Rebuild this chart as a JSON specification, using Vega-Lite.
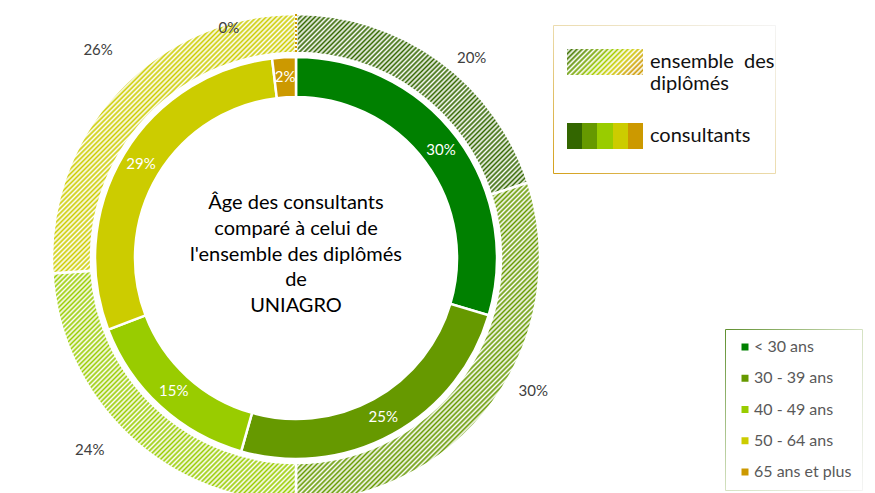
{
  "$schema": "https://vega.github.io/schema/vega-lite/v6.json",
  "autosize": {"type": "none"},
  "width": 592,
  "height": 470,
  "padding": {"left": 0, "top": 23, "right": 283, "bottom": 0},
  "background": "white",
  "config": {"view": {"stroke": null}, "font": "Lato"},
  "params": [
    {"name": "hatch", "value": {"gradient": "linear", "x1": 0, "y1": 0, "x2": 1, "y2": 1, "stops": [
      {"offset":0,"color":"#fff"},{"offset":0.005,"color":"#fff0"},{"offset":0.01,"color":"#fff"},{"offset":0.015,"color":"#fff0"},{"offset":0.02,"color":"#fff"},{"offset":0.025,"color":"#fff0"},{"offset":0.03,"color":"#fff"},{"offset":0.035,"color":"#fff0"},{"offset":0.04,"color":"#fff"},{"offset":0.045,"color":"#fff0"},
      {"offset":0.05,"color":"#fff"},{"offset":0.055,"color":"#fff0"},{"offset":0.06,"color":"#fff"},{"offset":0.065,"color":"#fff0"},{"offset":0.07,"color":"#fff"},{"offset":0.075,"color":"#fff0"},{"offset":0.08,"color":"#fff"},{"offset":0.085,"color":"#fff0"},{"offset":0.09,"color":"#fff"},{"offset":0.095,"color":"#fff0"},
      {"offset":0.1,"color":"#fff"},{"offset":0.105,"color":"#fff0"},{"offset":0.11,"color":"#fff"},{"offset":0.115,"color":"#fff0"},{"offset":0.12,"color":"#fff"},{"offset":0.125,"color":"#fff0"},{"offset":0.13,"color":"#fff"},{"offset":0.135,"color":"#fff0"},{"offset":0.14,"color":"#fff"},{"offset":0.145,"color":"#fff0"},
      {"offset":0.15,"color":"#fff"},{"offset":0.155,"color":"#fff0"},{"offset":0.16,"color":"#fff"},{"offset":0.165,"color":"#fff0"},{"offset":0.17,"color":"#fff"},{"offset":0.175,"color":"#fff0"},{"offset":0.18,"color":"#fff"},{"offset":0.185,"color":"#fff0"},{"offset":0.19,"color":"#fff"},{"offset":0.195,"color":"#fff0"},
      {"offset":0.2,"color":"#fff"},{"offset":0.205,"color":"#fff0"},{"offset":0.21,"color":"#fff"},{"offset":0.215,"color":"#fff0"},{"offset":0.22,"color":"#fff"},{"offset":0.225,"color":"#fff0"},{"offset":0.23,"color":"#fff"},{"offset":0.235,"color":"#fff0"},{"offset":0.24,"color":"#fff"},{"offset":0.245,"color":"#fff0"},
      {"offset":0.25,"color":"#fff"},{"offset":0.255,"color":"#fff0"},{"offset":0.26,"color":"#fff"},{"offset":0.265,"color":"#fff0"},{"offset":0.27,"color":"#fff"},{"offset":0.275,"color":"#fff0"},{"offset":0.28,"color":"#fff"},{"offset":0.285,"color":"#fff0"},{"offset":0.29,"color":"#fff"},{"offset":0.295,"color":"#fff0"},
      {"offset":0.3,"color":"#fff"},{"offset":0.305,"color":"#fff0"},{"offset":0.31,"color":"#fff"},{"offset":0.315,"color":"#fff0"},{"offset":0.32,"color":"#fff"},{"offset":0.325,"color":"#fff0"},{"offset":0.33,"color":"#fff"},{"offset":0.335,"color":"#fff0"},{"offset":0.34,"color":"#fff"},{"offset":0.345,"color":"#fff0"},
      {"offset":0.35,"color":"#fff"},{"offset":0.355,"color":"#fff0"},{"offset":0.36,"color":"#fff"},{"offset":0.365,"color":"#fff0"},{"offset":0.37,"color":"#fff"},{"offset":0.375,"color":"#fff0"},{"offset":0.38,"color":"#fff"},{"offset":0.385,"color":"#fff0"},{"offset":0.39,"color":"#fff"},{"offset":0.395,"color":"#fff0"},
      {"offset":0.4,"color":"#fff"},{"offset":0.405,"color":"#fff0"},{"offset":0.41,"color":"#fff"},{"offset":0.415,"color":"#fff0"},{"offset":0.42,"color":"#fff"},{"offset":0.425,"color":"#fff0"},{"offset":0.43,"color":"#fff"},{"offset":0.435,"color":"#fff0"},{"offset":0.44,"color":"#fff"},{"offset":0.445,"color":"#fff0"},
      {"offset":0.45,"color":"#fff"},{"offset":0.455,"color":"#fff0"},{"offset":0.46,"color":"#fff"},{"offset":0.465,"color":"#fff0"},{"offset":0.47,"color":"#fff"},{"offset":0.475,"color":"#fff0"},{"offset":0.48,"color":"#fff"},{"offset":0.485,"color":"#fff0"},{"offset":0.49,"color":"#fff"},{"offset":0.495,"color":"#fff0"},
      {"offset":0.5,"color":"#fff"},{"offset":0.505,"color":"#fff0"},{"offset":0.51,"color":"#fff"},{"offset":0.515,"color":"#fff0"},{"offset":0.52,"color":"#fff"},{"offset":0.525,"color":"#fff0"},{"offset":0.53,"color":"#fff"},{"offset":0.535,"color":"#fff0"},{"offset":0.54,"color":"#fff"},{"offset":0.545,"color":"#fff0"},
      {"offset":0.55,"color":"#fff"},{"offset":0.555,"color":"#fff0"},{"offset":0.56,"color":"#fff"},{"offset":0.565,"color":"#fff0"},{"offset":0.57,"color":"#fff"},{"offset":0.575,"color":"#fff0"},{"offset":0.58,"color":"#fff"},{"offset":0.585,"color":"#fff0"},{"offset":0.59,"color":"#fff"},{"offset":0.595,"color":"#fff0"},
      {"offset":0.6,"color":"#fff"},{"offset":0.605,"color":"#fff0"},{"offset":0.61,"color":"#fff"},{"offset":0.615,"color":"#fff0"},{"offset":0.62,"color":"#fff"},{"offset":0.625,"color":"#fff0"},{"offset":0.63,"color":"#fff"},{"offset":0.635,"color":"#fff0"},{"offset":0.64,"color":"#fff"},{"offset":0.645,"color":"#fff0"},
      {"offset":0.65,"color":"#fff"},{"offset":0.655,"color":"#fff0"},{"offset":0.66,"color":"#fff"},{"offset":0.665,"color":"#fff0"},{"offset":0.67,"color":"#fff"},{"offset":0.675,"color":"#fff0"},{"offset":0.68,"color":"#fff"},{"offset":0.685,"color":"#fff0"},{"offset":0.69,"color":"#fff"},{"offset":0.695,"color":"#fff0"},
      {"offset":0.7,"color":"#fff"},{"offset":0.705,"color":"#fff0"},{"offset":0.71,"color":"#fff"},{"offset":0.715,"color":"#fff0"},{"offset":0.72,"color":"#fff"},{"offset":0.725,"color":"#fff0"},{"offset":0.73,"color":"#fff"},{"offset":0.735,"color":"#fff0"},{"offset":0.74,"color":"#fff"},{"offset":0.745,"color":"#fff0"},
      {"offset":0.75,"color":"#fff"},{"offset":0.755,"color":"#fff0"},{"offset":0.76,"color":"#fff"},{"offset":0.765,"color":"#fff0"},{"offset":0.77,"color":"#fff"},{"offset":0.775,"color":"#fff0"},{"offset":0.78,"color":"#fff"},{"offset":0.785,"color":"#fff0"},{"offset":0.79,"color":"#fff"},{"offset":0.795,"color":"#fff0"},
      {"offset":0.8,"color":"#fff"},{"offset":0.805,"color":"#fff0"},{"offset":0.81,"color":"#fff"},{"offset":0.815,"color":"#fff0"},{"offset":0.82,"color":"#fff"},{"offset":0.825,"color":"#fff0"},{"offset":0.83,"color":"#fff"},{"offset":0.835,"color":"#fff0"},{"offset":0.84,"color":"#fff"},{"offset":0.845,"color":"#fff0"},
      {"offset":0.85,"color":"#fff"},{"offset":0.855,"color":"#fff0"},{"offset":0.86,"color":"#fff"},{"offset":0.865,"color":"#fff0"},{"offset":0.87,"color":"#fff"},{"offset":0.875,"color":"#fff0"},{"offset":0.88,"color":"#fff"},{"offset":0.885,"color":"#fff0"},{"offset":0.89,"color":"#fff"},{"offset":0.895,"color":"#fff0"},
      {"offset":0.9,"color":"#fff"},{"offset":0.905,"color":"#fff0"},{"offset":0.91,"color":"#fff"},{"offset":0.915,"color":"#fff0"},{"offset":0.92,"color":"#fff"},{"offset":0.925,"color":"#fff0"},{"offset":0.93,"color":"#fff"},{"offset":0.935,"color":"#fff0"},{"offset":0.94,"color":"#fff"},{"offset":0.945,"color":"#fff0"},
      {"offset":0.95,"color":"#fff"},{"offset":0.955,"color":"#fff0"},{"offset":0.96,"color":"#fff"},{"offset":0.965,"color":"#fff0"},{"offset":0.97,"color":"#fff"},{"offset":0.975,"color":"#fff0"},{"offset":0.98,"color":"#fff"},{"offset":0.985,"color":"#fff0"},{"offset":0.99,"color":"#fff"},{"offset":0.995,"color":"#fff0"},
      {"offset":1,"color":"#fff"}
    ]}},
    {"name": "gradCons", "value": {"gradient": "linear", "x1": 0, "y1": 0, "x2": 1, "y2": 0, "stops": [
      {"offset": 0, "color": "#336600"}, {"offset": 0.2, "color": "#336600"},
      {"offset": 0.2, "color": "#669900"}, {"offset": 0.4, "color": "#669900"},
      {"offset": 0.4, "color": "#99cc00"}, {"offset": 0.6, "color": "#99cc00"},
      {"offset": 0.6, "color": "#cccc00"}, {"offset": 0.8, "color": "#cccc00"},
      {"offset": 0.8, "color": "#cc9900"}, {"offset": 1, "color": "#cc9900"}]}},
    {"name": "gradHatchLeg", "value": {"gradient": "linear", "x1": 0, "y1": 0, "x2": 1.2015, "y2": 0.411, "stops": [
      {"offset":0,"color":"#336600"},{"offset":0.025,"color":"#fff"},
      {"offset":0.05,"color":"#3d7000"},{"offset":0.075,"color":"#fff"},
      {"offset":0.1,"color":"#477a00"},{"offset":0.125,"color":"#fff"},
      {"offset":0.15,"color":"#528400"},{"offset":0.175,"color":"#fff"},
      {"offset":0.2,"color":"#5c8e00"},{"offset":0.225,"color":"#fff"},
      {"offset":0.25,"color":"#669900"},{"offset":0.275,"color":"#fff"},
      {"offset":0.3,"color":"#73a300"},{"offset":0.325,"color":"#fff"},
      {"offset":0.35,"color":"#80ad00"},{"offset":0.375,"color":"#fff"},
      {"offset":0.4,"color":"#8cb800"},{"offset":0.425,"color":"#fff"},
      {"offset":0.45,"color":"#99cc00"},{"offset":0.475,"color":"#fff"},
      {"offset":0.5,"color":"#a6cc00"},{"offset":0.525,"color":"#fff"},
      {"offset":0.55,"color":"#b3cc00"},{"offset":0.575,"color":"#fff"},
      {"offset":0.6,"color":"#bfcc00"},{"offset":0.625,"color":"#fff"},
      {"offset":0.65,"color":"#cccc00"},{"offset":0.675,"color":"#fff"},
      {"offset":0.7,"color":"#ccc000"},{"offset":0.725,"color":"#fff"},
      {"offset":0.75,"color":"#ccb300"},{"offset":0.775,"color":"#fff"},
      {"offset":0.8,"color":"#cca600"},{"offset":0.825,"color":"#fff"},
      {"offset":0.85,"color":"#cc9900"},{"offset":0.875,"color":"#fff"},
      {"offset":0.9,"color":"#cc9900"},{"offset":0.925,"color":"#fff"},
      {"offset":0.95,"color":"#cc9900"},{"offset":0.975,"color":"#fff"},
      {"offset":1,"color":"#cc9900"}]}},
    {"name": "goldGrad", "value": {"gradient": "linear", "x1": 0, "y1": 1, "x2": 1, "y2": 0, "stops": [
      {"offset": 0, "color": "#d4a01a"}, {"offset": 0.5, "color": "#ecdcae"}, {"offset": 1, "color": "#f4f4f4"}]}},
    {"name": "greenGrad", "value": {"gradient": "linear", "x1": 0, "y1": 0, "x2": 1, "y2": 1, "stops": [
      {"offset": 0, "color": "#5f8f2f"}, {"offset": 0.5, "color": "#d5e2c2"}, {"offset": 1, "color": "#f4f4f4"}]}}
  ],
  "datasets": {
    "consultants": [
      {"age": "< 30 ans", "k": 1, "pct": 0.296},
      {"age": "30 - 39 ans", "k": 2, "pct": 0.248},
      {"age": "40 - 49 ans", "k": 3, "pct": 0.148},
      {"age": "50 - 64 ans", "k": 4, "pct": 0.289},
      {"age": "65 ans et plus", "k": 5, "pct": 0.019}
    ],
    "diplomes": [
      {"age": "< 30 ans", "k": 1, "pct": 0.20},
      {"age": "30 - 39 ans", "k": 2, "pct": 0.30},
      {"age": "40 - 49 ans", "k": 3, "pct": 0.24},
      {"age": "50 - 64 ans", "k": 4, "pct": 0.26},
      {"age": "65 ans et plus", "k": 5, "pct": 0}
    ],
    "titre": [{"t": "Âge des consultants\ncomparé à celui de\nl'ensemble des diplômés\nde\nUNIAGRO"}],
    "anneau": [{"groupe": "ensemble des diplômés"}]
  },
  "layer": [
    {
      "data": {"name": "diplomes"},
      "mark": {"type": "arc", "radius": 244, "radius2": 205, "stroke": "white", "strokeWidth": 2.5},
      "encoding": {
        "theta": {"field": "pct", "type": "quantitative", "stack": true},
        "order": {"field": "k", "type": "quantitative"},
        "fill": {"field": "age", "type": "nominal", "legend": null,
          "scale": {"range": ["#336600", "#669900", "#99cc00", "#cccc00", "#cc9900"]}, "sort": null},
        "opacity": {"datum": "ensemble des diplômés", "type": "nominal",
          "scale": {"domain": ["ensemble des diplômés", "consultants"], "range": [1, 1]},
          "legend": {
            "orient": "none", "legendX": 553, "legendY": 2, "title": null, "padding": 0,
            "symbolType": "M-1,-0.342H1V0.342H-1Z", "symbolSize": 5776, "symbolOffset": 14,
            "symbolStrokeWidth": 0, "symbolStrokeColor": "transparent",
            "symbolFillColor": {"expr": "datum.value === 'consultants' ? gradCons : gradHatchLeg"},
            "symbolOpacity": 1, "clipHeight": 74,
            "labelOffset": 7, "labelFont": "Lato", "labelFontSize": 20,
            "labelColor": "#111111", "rowPadding": 0, "labelLimit": 400,
            "labelExpr": "datum.value === 'consultants' ? '\u00a0consultants' : ['ensemble\u00a0 des', 'diplômés']",
            "fillColor": "white",
            "strokeColor": {"expr": "goldGrad"}
          }
        }
      }
    },
    {
      "data": {"name": "anneau"},
      "mark": {"type": "arc", "radius": 244, "radius2": 205, "theta": 0, "theta2": 1.5708, "fill": {"expr": "hatch"}},
      "encoding": {}
    },
    {
      "data": {"name": "anneau"},
      "mark": {"type": "arc", "radius": 244, "radius2": 205, "theta": 1.5708, "theta2": 3.1416, "fill": {"expr": "hatch"}},
      "encoding": {}
    },
    {
      "data": {"name": "anneau"},
      "mark": {"type": "arc", "radius": 244, "radius2": 205, "theta": 3.1416, "theta2": 4.7124, "fill": {"expr": "hatch"}},
      "encoding": {}
    },
    {
      "data": {"name": "anneau"},
      "mark": {"type": "arc", "radius": 244, "radius2": 205, "theta": 4.7124, "theta2": 6.2832, "fill": {"expr": "hatch"}},
      "encoding": {}
    },
    {
      "data": {"name": "diplomes"},
      "transform": [{"filter": "datum.pct === 0"}],
      "mark": {"type": "arc", "radius": 244, "radius2": 205, "stroke": "#cc9900", "strokeWidth": 2, "strokeDash": [2, 2], "fill": null},
      "encoding": {
        "theta": {"field": "pct", "type": "quantitative", "stack": true},
        "order": {"field": "k", "type": "quantitative"}
      }
    },
    {
      "data": {"name": "consultants"},
      "mark": {"type": "arc", "radius": 201, "radius2": 161, "stroke": "white", "strokeWidth": 2.5},
      "encoding": {
        "theta": {"field": "pct", "type": "quantitative", "stack": true},
        "order": {"field": "k", "type": "quantitative"},
        "color": {"field": "age", "type": "nominal",
          "scale": {"domain": ["< 30 ans", "30 - 39 ans", "40 - 49 ans", "50 - 64 ans", "65 ans et plus"],
                    "range": ["#008000", "#669900", "#99cc00", "#cccc00", "#cc9900"]},
          "legend": {
            "orient": "none", "legendX": 725, "legendY": 306, "title": null,
            "symbolType": "square", "symbolSize": 49, "symbolStrokeWidth": 0,
            "labelFont": "Lato", "labelFontSize": 16, "labelColor": "#595959",
            "rowPadding": 15.25, "padding": 10, "symbolOffset": 2, "labelOffset": 1,
            "fillColor": "white",
            "strokeColor": {"expr": "greenGrad"}
          }
        }
      }
    },
    {
      "data": {"name": "consultants"},
      "mark": {"type": "text", "radius": 181, "fill": "white", "fontSize": 15, "font": "Lato"},
      "encoding": {
        "theta": {"field": "pct", "type": "quantitative", "stack": true},
        "order": {"field": "k", "type": "quantitative"},
        "detail": {"field": "age", "type": "nominal"},
        "text": {"field": "pct", "type": "quantitative", "format": ".0%"}
      }
    },
    {
      "data": {"name": "diplomes"},
      "mark": {"type": "text", "fill": "#404040", "fontSize": 15, "font": "Lato",
        "radius": {"expr": "datum.k === 1 ? 266 : datum.k === 2 ? 272 : datum.k === 3 ? 282 : datum.k === 4 ? 287 : 240"},
        "thetaOffset": {"expr": "datum.k === 1 ? 0.093 : datum.k === 2 ? -0.117 : datum.k === 3 ? 0.066 : datum.k === 4 ? 0.056 : -0.283"}},
      "encoding": {
        "theta": {"field": "pct", "type": "quantitative", "stack": true},
        "order": {"field": "k", "type": "quantitative"},
        "detail": {"field": "age", "type": "nominal"},
        "text": {"field": "pct", "type": "quantitative", "format": ".0%"}
      }
    },
    {
      "data": {"name": "titre"},
      "mark": {"type": "text", "lineBreak": "\n", "fontSize": 20, "lineHeight": 25.75, "dy": -55, "font": "Lato", "fill": "#000000", "align": "center", "baseline": "middle"},
      "encoding": {"text": {"field": "t", "type": "nominal"}}
    }
  ]
}
